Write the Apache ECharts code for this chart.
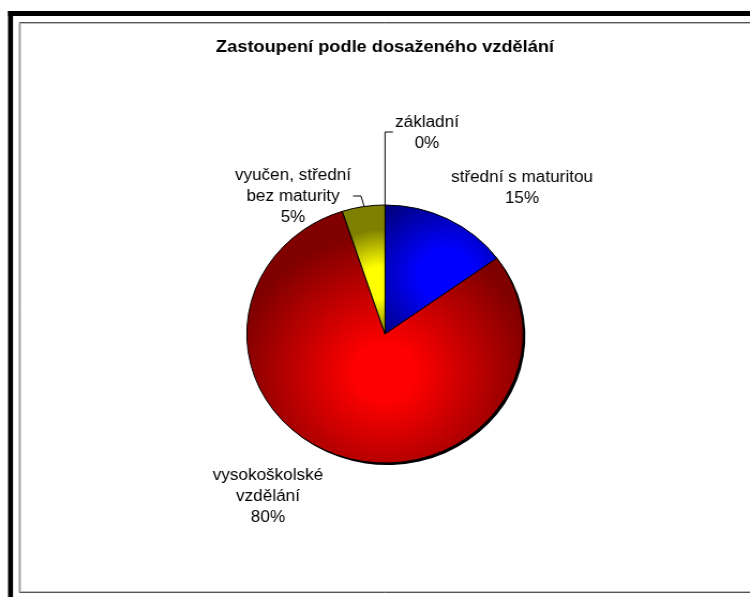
<!DOCTYPE html>
<html>
<head>
<meta charset="utf-8">
<script src="https://cdn.jsdelivr.net/npm/echarts@6/dist/echarts.min.js"></script>
<style>
  html, body { margin: 0; padding: 0; background: #fff; overflow: hidden; }
  /* the reference is slightly stretched sideways, so draw narrower and scale */
  #chart { width: 700px; height: 597px; transform: scaleX(1.0714286); transform-origin: 0 0; }
</style>
</head>
<body>
<div id="chart"></div>
<script>
var titleText = 'Zastoupení podle dosaženého vzdělání';
var categories = ['základní', 'střední s maturitou', 'vysokoškolské\nvzdělání', 'vyučen, střední\nbez maturity'];
var shares = [0, 15, 80, 5];

var myChart = echarts.init(document.getElementById('chart'));

var sx = 1 / 1.0714286;   // ref x -> chart x
var cx = 385 * sx, cy = 334, rad = 129;

function grad(x, y, r, c0, c1, hold) {
    return {
        type: 'radial', x: x, y: y, r: r,
        colorStops: [{offset: 0, color: c0}, {offset: hold, color: c0}, {offset: 1, color: c1}]
    };
}

var fills = [
    '#0000ff',
    grad(0.54, 0.54, 0.8, '#0000ff', '#000080', 0.3),
    grad(0.5, 0.64, 0.55, '#ff0000', '#800000', 0.2),
    grad(0.85, 0.6, 1.3, '#ffff00', '#808000', 0.3)
];

// label anchors in reference pixels
var labelAt = [
    {x: 427, y: 133, line: [[385, 205], [385, 132], [393, 132]]},
    {x: 522, y: 188},
    {x: 268, y: 497},
    {x: 293, y: 197, line: [[364, 206], [361, 196], [353, 196]]}
];

var data = categories.map(function (name, i) {
    return {
        name: name,
        value: shares[i],
        itemStyle: {color: fills[i]},
        labelLine: {show: !!labelAt[i].line}
    };
});

var option = {
    animation: false,
    graphic: [
        {type: 'rect', shape: {x: 19.5 * sx, y: 22.5, width: 700, height: 570}, style: {fill: 'none', stroke: '#555', lineWidth: 1}},
        {type: 'rect', shape: {x: 20.5 * sx, y: 23.5, width: 700, height: 568}, style: {fill: 'none', stroke: '#bbb', lineWidth: 1}},
        {type: 'rect', shape: {x: 8 * sx, y: 11, width: 5 * sx, height: 600}, style: {fill: '#000'}},
        {type: 'rect', shape: {x: 8 * sx, y: 11, width: 700, height: 5}, style: {fill: '#000'}},
        {
            type: 'text', x: cx, y: 47,
            style: {
                text: titleText, fill: '#000', font: 'bold 17px "Liberation Sans", Arial, sans-serif',
                textAlign: 'center', textVerticalAlign: 'middle'
            }
        }
    ],
    series: [{
        type: 'pie',
        silent: true,
        center: [cx + 2, cy + 2],
        radius: rad,
        startAngle: 90,
        clockwise: true,
        z: 1,
        label: {show: false},
        labelLine: {show: false},
        itemStyle: {color: '#000'},
        data: shares.map(function (v) { return {value: v}; })
    }, {
        type: 'pie',
        center: [cx, cy],
        radius: rad,
        startAngle: 90,
        clockwise: true,
        z: 2,
        itemStyle: {borderColor: '#000', borderWidth: 1},
        label: {
            show: true,
            position: 'outside',
            formatter: '{b}\n{d}%',
            color: '#000',
            fontFamily: '"Liberation Sans", Arial, sans-serif',
            fontSize: 16,
            lineHeight: 21,
            align: 'center'
        },
        labelLine: {show: true, lineStyle: {color: '#000', width: 1}},
        labelLayout: function (params) {
            var p = labelAt[params.dataIndex];
            var res = {x: p.x * sx, y: p.y, align: 'center', verticalAlign: 'middle'};
            if (p.line) {
                res.labelLinePoints = p.line.map(function (pt) { return [pt[0] * sx, pt[1]]; });
            }
            return res;
        },
        data: data
    }]
};

myChart.setOption(option);
</script>
</body>
</html>
